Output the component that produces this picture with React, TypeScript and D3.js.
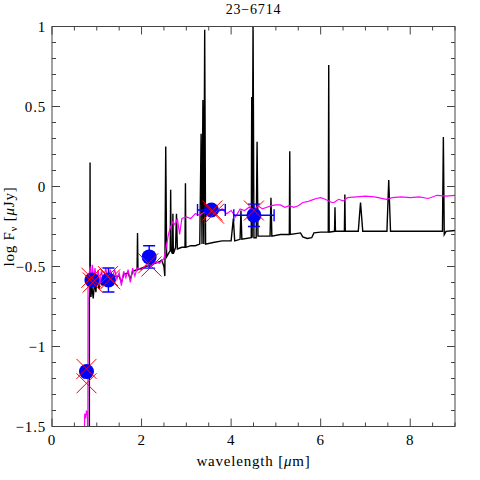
import * as d3 from "d3";

// observed photometry (blue)
const obsLambda = [0.77, 0.89, 1.26, 2.17, 3.56, 4.51];
const obsLogF = [-1.157, -0.584, -0.584, -0.44, -0.147, -0.18];
const obsXErr = [0, 0, 0, 0, 0.31, 0.45];
const obsYErr = [0, 0, 0.075, 0.07, 0, 0.07];

// model photometry (red crosses)
const modLambda = [0.77, 0.77, 0.88, 0.91, 1.25, 1.3, 2.15, 2.22, 3.58, 3.62, 4.51];
const modLogF = [-1.14, -1.23, -0.57, -0.6, -0.56, -0.58, -0.48, -0.5, -0.15, -0.17, -0.15];

// black spectrum [lambda, logF]
const blackSpec: [number, number][] = [
  [0.835, -1.6], [0.835, -0.7], [0.845, -0.66], [0.85, 0.15], [0.855, -0.62], [0.87, -0.69],
  [0.89, -0.62], [0.92, -0.7], [0.95, -0.6], [0.98, -0.66], [1.0, -0.58], [1.05, -0.64],
  [1.08, -0.57], [1.12, -0.62], [1.15, -0.58], [1.2, -0.57], [1.3, -0.56], [1.4, -0.56],
  [1.5, -0.56], [1.55, -0.6], [1.6, -0.55], [1.7, -0.54], [1.75, -0.58], [1.8, -0.53],
  [1.9, -0.52], [1.91, -0.29], [1.92, -0.52], [2.0, -0.51], [2.1, -0.5], [2.2, -0.49],
  [2.3, -0.48], [2.4, -0.47], [2.45, -0.46], [2.5, -0.5], [2.52, -0.56], [2.54, 0.25],
  [2.56, -0.44], [2.6, -0.42], [2.64, -0.4], [2.65, -0.02], [2.66, -0.4], [2.69, -0.42],
  [2.7, -0.17], [2.71, -0.42], [2.76, -0.38], [2.78, -0.17], [2.8, -0.39], [2.9, -0.38],
  [2.97, -0.38], [2.98, 0.02], [2.99, -0.38], [3.1, -0.37], [3.2, -0.37], [3.3, -0.36],
  [3.33, 0.33], [3.35, -0.36], [3.37, 0.54], [3.39, -0.36], [3.41, 0.98], [3.43, -0.36],
  [3.6, -0.35], [3.8, -0.34], [4.0, -0.34], [4.05, -0.2], [4.08, -0.34], [4.2, -0.33],
  [4.22, -0.15], [4.24, -0.33], [4.45, -0.32], [4.46, 0.56], [4.47, -0.32], [4.49, 1.05],
  [4.51, -0.32], [4.56, -0.32], [4.58, 0.28], [4.6, -0.31], [4.87, -0.31], [4.89, -0.07],
  [4.91, -0.31], [5.1, -0.3], [5.3, -0.3], [5.31, 0.22], [5.32, -0.3], [5.55, -0.29],
  [5.6, -0.315], [5.7, -0.325], [5.8, -0.32], [5.85, -0.29], [6.0, -0.285], [6.17, -0.285],
  [6.18, 0.76], [6.19, -0.285], [6.31, -0.28], [6.32, -0.13], [6.33, -0.28], [6.53, -0.28],
  [6.54, -0.05], [6.55, -0.28], [6.84, -0.28], [6.89, -0.1], [6.94, -0.28], [7.48, -0.28],
  [7.52, 0.04], [7.56, -0.28], [8.0, -0.28], [8.5, -0.28], [8.72, -0.28], [8.74, 0.31],
  [8.76, -0.3], [8.8, -0.28], [9.0, -0.275],
];

// magenta model spectrum [lambda, logF]
const magentaSpec: [number, number][] = [
  [0.72, -1.6], [0.73, -1.42], [0.75, -1.45], [0.77, -1.4], [0.79, -1.43], [0.8, -1.6],
  [0.805, -0.6], [0.85, -0.5], [0.87, -0.6], [0.9, -0.49], [0.93, -0.58], [0.96, -0.51],
  [1.0, -0.6], [1.03, -0.52], [1.07, -0.61], [1.1, -0.53], [1.15, -0.58], [1.2, -0.51],
  [1.25, -0.59], [1.3, -0.52], [1.35, -0.57], [1.4, -0.52], [1.45, -0.58], [1.5, -0.54],
  [1.55, -0.62], [1.6, -0.53], [1.65, -0.57], [1.7, -0.52], [1.75, -0.6], [1.8, -0.51],
  [1.85, -0.56], [1.9, -0.51], [2.0, -0.52], [2.1, -0.49], [2.2, -0.5], [2.3, -0.47],
  [2.4, -0.48], [2.5, -0.45], [2.55, -0.38], [2.6, -0.3], [2.65, -0.25], [2.7, -0.22],
  [2.75, -0.24], [2.8, -0.2], [2.85, -0.3], [2.9, -0.2], [3.0, -0.19], [3.1, -0.2],
  [3.2, -0.17], [3.3, -0.18], [3.4, -0.16], [3.5, -0.17], [3.6, -0.15], [3.7, -0.16],
  [3.8, -0.14], [3.9, -0.17], [4.0, -0.15], [4.1, -0.19], [4.2, -0.14], [4.3, -0.15],
  [4.4, -0.13], [4.5, -0.15], [4.6, -0.12], [4.7, -0.14], [4.8, -0.13], [4.9, -0.12],
  [5.0, -0.115], [5.1, -0.115], [5.2, -0.13], [5.3, -0.12], [5.4, -0.13], [5.5, -0.12],
  [5.6, -0.1], [5.7, -0.095], [5.8, -0.085], [5.9, -0.075], [6.0, -0.07], [6.1, -0.08],
  [6.25, -0.1], [6.3, -0.1], [6.4, -0.08], [6.5, -0.09], [6.6, -0.07], [6.8, -0.065],
  [7.0, -0.06], [7.2, -0.065], [7.47, -0.08], [7.6, -0.07], [7.8, -0.065], [8.0, -0.07],
  [8.2, -0.065], [8.4, -0.075], [8.6, -0.055], [8.8, -0.06], [9.0, -0.055],
];

const xMajor = [0, 2, 4, 6, 8];
const yMajor = [-1.5, -1, -0.5, 0, 0.5, 1];

const W = 480;
const H = 480;
const left = 52;
const right = 455;
const top = 26.5;
const bottom = 426.5;
const font = "'Liberation Serif', 'DejaVu Serif', serif";
const axisColor = "#444";

export default function App() {
  const x = d3.scaleLinear().domain([0, 9]).range([left, right]);
  const y = d3.scaleLinear().domain([-1.5, 1]).range([bottom, top]);
  const line = d3.line<[number, number]>().x((d) => x(d[0])).y((d) => y(d[1]));

  const xMinor = d3.range(0, 9.001, 0.5).filter((v) => v % 2 !== 0);
  const yMinor = d3.range(-1.5, 1.001, 0.1).filter((v) => Math.abs(v * 2 - Math.round(v * 2)) > 0.01);
  const fmt = (v: number) => (v < 0 ? "\u2212" + String(Math.abs(v)) : String(v));

  const cap = 6;
  const cross = 10;

  return (
    <svg width={W} height={H} style={{ position: "fixed", left: 0, top: 0, background: "#fff" }}>
      <defs>
        <clipPath id="plot">
          <rect x={left} y={top} width={right - left} height={bottom - top} />
        </clipPath>
      </defs>

      <g clipPath="url(#plot)">
        <path d={line(blackSpec) ?? ""} fill="none" stroke="#000" strokeWidth={1.4} />
        <path d={line(magentaSpec) ?? ""} fill="none" stroke="#ff00ff" strokeWidth={1.2} />

        {obsLambda.map((l, i) => {
          const cx = x(l);
          const cy = y(obsLogF[i]);
          const ex = obsXErr[i];
          const ey = obsYErr[i];
          return (
            <g key={"o" + i} stroke="#0000ff" strokeWidth={1.4}>
              {ex > 0 && (
                <>
                  <line x1={x(l - ex)} x2={x(l + ex)} y1={cy} y2={cy} />
                  <line x1={x(l - ex)} x2={x(l - ex)} y1={cy - cap} y2={cy + cap} />
                  <line x1={x(l + ex)} x2={x(l + ex)} y1={cy - cap} y2={cy + cap} />
                </>
              )}
              {ey > 0 && (
                <>
                  <line x1={cx} x2={cx} y1={y(obsLogF[i] - ey)} y2={y(obsLogF[i] + ey)} />
                  <line x1={cx - cap} x2={cx + cap} y1={y(obsLogF[i] - ey)} y2={y(obsLogF[i] - ey)} />
                  <line x1={cx - cap} x2={cx + cap} y1={y(obsLogF[i] + ey)} y2={y(obsLogF[i] + ey)} />
                </>
              )}
              <circle cx={cx} cy={cy} r={7.5} fill="#0000ff" stroke="none" />
            </g>
          );
        })}

        {modLambda.map((l, i) => {
          const cx = x(l);
          const cy = y(modLogF[i]);
          return (
            <g key={"m" + i} stroke="#ff0000" strokeWidth={1}>
              <line x1={cx - cross} y1={cy - cross} x2={cx + cross} y2={cy + cross} />
              <line x1={cx - cross} y1={cy + cross} x2={cx + cross} y2={cy - cross} />
            </g>
          );
        })}
      </g>

      {/* frame and ticks */}
      <rect x={left} y={top} width={right - left} height={bottom - top} fill="none" stroke={axisColor} strokeWidth={1} />
      <g stroke={axisColor} strokeWidth={1}>
        {xMajor.map((v) => (
          <g key={"xM" + v}>
            <line x1={x(v)} x2={x(v)} y1={bottom} y2={bottom - 8} />
            <line x1={x(v)} x2={x(v)} y1={top} y2={top + 8} />
          </g>
        ))}
        {xMinor.map((v) => (
          <g key={"xm" + v}>
            <line x1={x(v)} x2={x(v)} y1={bottom} y2={bottom - 4} />
            <line x1={x(v)} x2={x(v)} y1={top} y2={top + 4} />
          </g>
        ))}
        {yMajor.map((v) => (
          <g key={"yM" + v}>
            <line x1={left} x2={left + 8} y1={y(v)} y2={y(v)} />
            <line x1={right} x2={right - 8} y1={y(v)} y2={y(v)} />
          </g>
        ))}
        {yMinor.map((v) => (
          <g key={"ym" + v.toFixed(2)}>
            <line x1={left} x2={left + 4} y1={y(v)} y2={y(v)} />
            <line x1={right} x2={right - 4} y1={y(v)} y2={y(v)} />
          </g>
        ))}
      </g>

      <g fontFamily={font} fontSize={15} fill="#000" letterSpacing={0.8}>
        {xMajor.map((v) => (
          <text key={"xl" + v} x={x(v)} y={bottom + 18} textAnchor="middle">
            {fmt(v)}
          </text>
        ))}
        {yMajor.map((v) => (
          <text key={"yl" + v} x={left - 6} y={y(v) + 5} textAnchor="end">
            {fmt(v)}
          </text>
        ))}
        <text x={(left + right) / 2} y={466} textAnchor="middle">
          wavelength [<tspan fontStyle="italic">μ</tspan>m]
        </text>
        <text x={(left + right) / 2} y={14} textAnchor="middle" fontSize={14}>
          23−6714
        </text>
        <text transform={`translate(14, ${(top + bottom) / 2}) rotate(-90)`} textAnchor="middle">
          log F<tspan fontSize={10} dy={3}>ν</tspan>
          <tspan dy={-3}> [</tspan>
          <tspan fontStyle="italic">μ</tspan>Jy]
        </text>
      </g>
    </svg>
  );
}
